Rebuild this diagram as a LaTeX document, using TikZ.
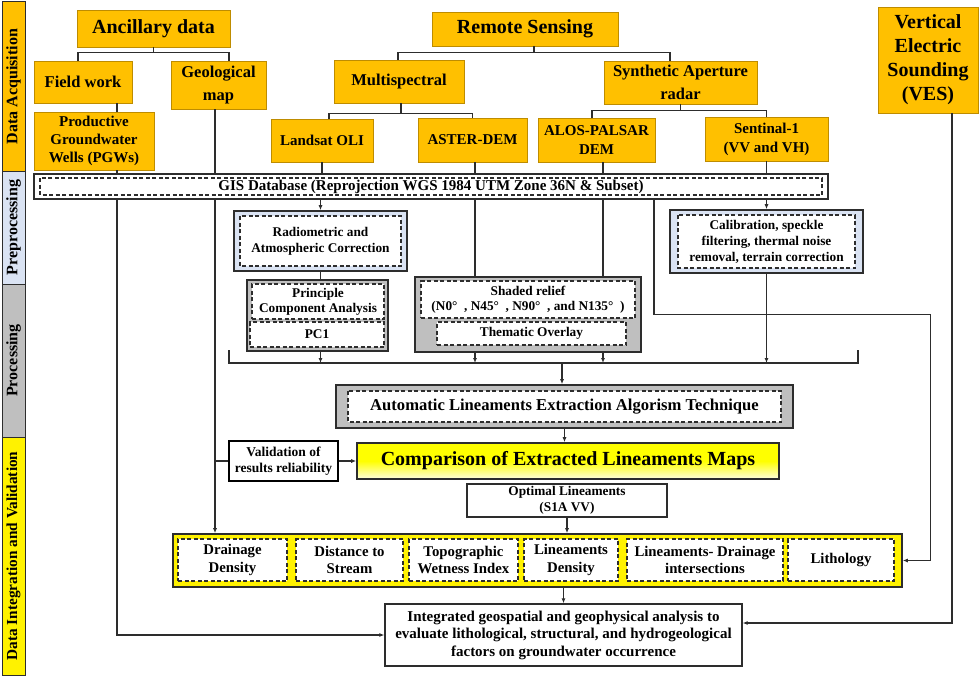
\documentclass[tikz,border=0pt]{standalone}
\usepackage{fontspec}
\setmainfont{Liberation Serif}
\usepackage{xcolor}
\usepackage{tikz}
\usetikzlibrary{positioning, calc, arrows.meta}

\definecolor{acqgold}{RGB}{255,192,0}
\definecolor{goldline}{RGB}{190,140,0}
\definecolor{prepblue}{RGB}{218,227,243}
\definecolor{procgray}{RGB}{191,191,191}
\definecolor{linegray}{RGB}{45,45,45}

\begin{document}
\begin{tikzpicture}[
    x=1pt, y=-1pt,
    fbig/.style={font=\bfseries\fontsize{20}{24}\selectfont},
    fmid/.style={font=\bfseries\fontsize{16.5}{23}\selectfont},
    fnorm/.style={font=\bfseries\fontsize{15}{19}\selectfont},
    fsmall/.style={font=\bfseries\fontsize{13.3}{16}\selectfont},
    acq/.style={
        rectangle, draw=goldline, fill=acqgold, line width=0.8pt,
        align=center, inner sep=0pt
    },
    stage/.style={
        rectangle, draw=linegray, line width=1pt, rotate=90,
        inner sep=0pt, minimum height=23pt,
        font=\bfseries\fontsize{16}{18}\selectfont
    },
    outer/.style={
        rectangle, draw=linegray, line width=1.6pt,
        inner sep=0pt, align=center
    },
    inner/.style={
        rectangle, draw=linegray, dash pattern=on 4pt off 2.5pt,
        line width=1.2pt, fill=white, inner sep=0pt, align=center
    },
    framed/.style 2 args={
        path picture={
            \draw[linegray, dash pattern=on 4pt off 2.5pt, line width=1.2pt, fill=white]
                ([shift={(#1,-#2)}]path picture bounding box.north west)
                rectangle ([shift={(-#1,#2)}]path picture bounding box.south east);
        }
    },
    factor/.style={
        inner, minimum height=42pt,
        font=\bfseries\fontsize{14.8}{17.3}\selectfont
    },
    link/.style={draw=linegray, line width=1.1pt},
    arr/.style={link, -{Latex[length=5pt,width=4pt]}}
]
\useasboundingbox (0,0) rectangle (980,677);

% Stages
\node[stage, fill=acqgold, minimum width=169pt] (sacq) at (13.5,86.5) {Data Acquisition};
\node[stage, fill=prepblue, minimum width=113pt] (sprep) at (13.5,227.5) {Preprocessing};
\node[stage, fill=procgray, minimum width=153pt] (sproc) at (13.5,360.5) {Processing};
\node[stage, fill=yellow, minimum width=238pt,
      font=\bfseries\fontsize{15.3}{18}\selectfont] (sint) at (13.5,556) {Data Integration and Validation};

% Data acquisition
\node[acq, fbig, minimum width=153pt, minimum height=37pt] (ancil) at (153.5,28.5) {Ancillary data};
\node[acq, fbig, minimum width=186pt, minimum height=34pt] (remote) at (525,29) {Remote Sensing};
\node[acq, fbig, minimum width=100pt, minimum height=106pt] (ves) at (928,60) {Vertical\\Electric\\Sounding\\(VES)};
\node[acq, fmid, minimum width=98pt, minimum height=42pt] (field) at (83,82) {Field work};
\node[acq, fmid, minimum width=95pt, minimum height=48pt] (geomap) at (218.5,85) {Geological\\map};
\node[acq, fmid, minimum width=130pt, minimum height=43pt] (multi) at (399,81.5) {Multispectral};
\node[acq, fmid, minimum width=153pt, minimum height=43pt] (sar) at (680.5,82.5) {Synthetic Aperture\\radar};
\node[acq, fnorm, minimum width=120pt, minimum height=58pt,
      font=\bfseries\fontsize{15}{18}\selectfont] (pgw) at (94,141) {Productive\\Groundwater\\Wells (PGWs)};
\node[acq, fnorm, minimum width=102pt, minimum height=43pt] (landsat) at (322,140.5) {Landsat OLI};
\node[acq, fnorm, minimum width=109pt, minimum height=44pt] (aster) at (472.5,140) {ASTER-DEM};
\node[acq, fnorm, minimum width=117pt, minimum height=44pt] (alos) at (596.5,140) {ALOS-PALSAR\\DEM};
\node[acq, fnorm, minimum width=123pt, minimum height=44pt] (sentinel) at (766.5,139) {Sentinal-1\\(VV and VH)};

% Preprocessing
\node[outer, fill=white, fnorm, minimum width=794pt, minimum height=25pt, framed={6pt}{4pt}]
    (gis) at (431,186.5) {GIS Database (Reprojection WGS 1984 UTM Zone 36N \& Subset)};
\node[outer, fill=prepblue, fsmall, minimum width=173pt, minimum height=60pt, framed={6pt}{5pt}]
    (radio) at (320.5,241) {Radiometric and\\Atmospheric Correction};
\node[outer, fill=prepblue, fsmall, minimum width=193pt, minimum height=63pt, framed={8pt}{5pt}]
    (calib) at (766.5,241.5) {Calibration, speckle\\filtering, thermal noise\\removal, terrain correction};

% Processing
\node[outer, fill=procgray, minimum width=141pt, minimum height=71pt] (pcabox) at (317.5,315.5) {};
\node[inner, fsmall, minimum width=132pt, minimum height=35pt,
      font=\bfseries\fontsize{13.3}{15}\selectfont] (pca) at (318,301.5) {Principle\\Component Analysis};
\node[inner, fsmall, minimum width=134pt, minimum height=25pt] (pc1) at (317,334.5) {PC1};
\node[outer, fill=procgray, minimum width=226pt, minimum height=75pt] (relbox) at (528,314.5) {};
\node[inner, fsmall, minimum width=214pt, minimum height=37pt,
      font=\bfseries\fontsize{13.3}{15}\selectfont] (shade) at (528,299.5)
    {Shaded relief\\(N0°\enspace, N45°\enspace, N90°\enspace, and N135°\enspace)};
\node[inner, fsmall, minimum width=189pt, minimum height=23pt] (overlay) at (531.5,333.5) {Thematic Overlay};
\node[outer, fill=procgray, minimum width=457pt, minimum height=43pt, framed={12pt}{6pt},
      font=\bfseries\fontsize{16.6}{20}\selectfont]
    (extract) at (564.5,406.5) {Automatic Lineaments Extraction Algorism Technique};

% Integration and validation
\node[outer, draw=black, line width=2.8pt, fill=white, minimum width=109pt, minimum height=40pt,
      font=\bfseries\fontsize{13.5}{16.5}\selectfont] (valid) at (283.5,461) {Validation of\\results reliability};
\node[outer, top color=yellow, bottom color=yellow!12, middle color=yellow,
      minimum width=422pt, minimum height=36pt, fbig] (compare) at (568,461)
    {Comparison of Extracted Lineaments Maps};
\node[outer, fill=white, line width=1.3pt, fsmall, minimum width=200pt, minimum height=33pt]
    (optimal) at (567,500.5) {Optimal Lineaments\\(S1A VV)};
\node[outer, fill=yellow, minimum width=729pt, minimum height=53pt] (factors) at (537.5,560.5) {};
\node[factor, minimum width=109pt] (drain) at (232.5,560) {Drainage\\Density};
\node[factor, minimum width=107pt] (dist) at (349.5,560) {Distance to\\Stream};
\node[factor, minimum width=109pt] (twi) at (463.5,560) {Topographic\\Wetness Index};
\node[factor, minimum width=94pt] (lden) at (571,560) {Lineaments\\Density};
\node[factor, minimum width=156pt] (ldint) at (705,560) {Lineaments- Drainage\\intersections};
\node[factor, minimum width=106pt] (litho) at (841,560) {Lithology};
\node[outer, fill=white, line width=1.3pt, minimum width=357pt, minimum height=62pt,
      font=\bfseries\fontsize{15}{17.5}\selectfont] (integ) at (563.5,635)
    {Integrated geospatial and geophysical analysis to\\evaluate lithological, structural, and hydrogeological\\factors on groundwater occurrence};

% Acquisition tree
\draw[link] (ancil.south) -- ++(0,5.5) coordinate (anc);
\draw[link] ([xshift=-5pt]field.north) |- (anc) -| ([xshift=10.5pt]geomap.north);
\draw[link] ([xshift=9pt]remote.south) -- ++(0,6) coordinate (rs);
\draw[link] ([xshift=-1pt]multi.north) |- (rs) -| ([xshift=-10.5pt]sar.north);
\draw[link] ([xshift=2pt]multi.south) -- ++(0,10.5) coordinate (ms);
\draw[link] ([xshift=7pt]landsat.north) |- (ms) -| (aster.north);
\draw[link] (sar.south) -- ++(0,6) coordinate (ss);
\draw[link] ([xshift=-4.5pt]alos.north) |- (ss) -| (sentinel.north);
\draw[link] ([xshift=34pt]field.south) -- ([xshift=23pt]pgw.north);

% Into the GIS database
\coordinate (pgwx) at ([xshift=23pt]pgw.south);
\coordinate (geox) at ([xshift=-3.5pt]geomap.south);
\coordinate (asx) at ([xshift=2.5pt]aster.south);
\coordinate (alx) at ([xshift=6.5pt]alos.south);
\draw[link] (pgwx) -- (pgwx |- gis.north);
\draw[link] (geox) -- (geox |- gis.north);
\draw[link] (landsat.south) -- (landsat.south |- gis.north);
\draw[link] (asx) -- (asx |- gis.north);
\draw[link] (alx) -- (alx |- gis.north);
\draw[link] (sentinel.south) -- (sentinel.south |- gis.north);

% Preprocessing and processing flow
\draw[arr] (radio.north |- gis.south) -- (radio.north);
\draw[link] (radio.south) -- (pcabox.north -| radio.south);
\draw[link] (asx |- gis.south) -- (asx |- relbox.north);
\draw[link] (alx |- gis.south) -- (alx |- relbox.north);
\draw[arr] (sentinel.south |- gis.south) -- (calib.north);
\coordinate (bl) at (229,350);
\coordinate (br) at (858,350);
\draw[link] (bl) -- ++(0,13) coordinate (bll) -- (bll -| br) -- (br);
\draw[arr] (radio.south |- pcabox.south) -- (radio.south |- bll);
\draw[arr] (asx |- relbox.south) -- (asx |- bll);
\draw[arr] (alx |- relbox.south) -- (alx |- bll);
\draw[arr] (calib.south) -- (calib.south |- bll);
\draw[arr] ([xshift=-2.5pt]extract.north |- bll) -- ([xshift=-2.5pt]extract.north);
\draw[arr] (extract.south) -- (extract.south |- compare.north);

% Validation and integration
\draw[arr] (geox |- gis.south) -- (geox |- factors.north);
\draw[link] (geox |- valid.west) -- (valid.west);
\draw[arr] (valid.east) -- (valid.east -| compare.west);
\draw[arr] (optimal.south) -- (optimal.south |- factors.north);
\draw[arr] (factors.south -| integ.north) -- (integ.north);
\draw[arr] (pgwx |- gis.south) |- (integ.west);
\coordinate (gisx) at ([xshift=223pt]gis.south);
\draw[arr] (gisx) -- ++(0,115) -| ([xshift=28pt]factors.east) -- (factors.east);
\draw[arr] ([xshift=24pt]ves.south) |- ([yshift=12pt]integ.east);

\end{tikzpicture}
\end{document}
